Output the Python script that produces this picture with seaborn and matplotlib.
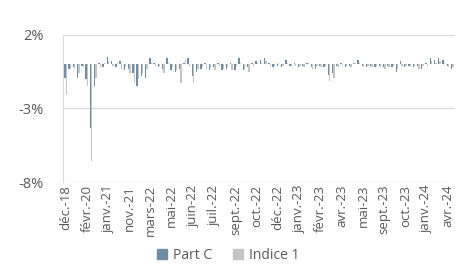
import pandas as pd
import seaborn as sns
import matplotlib.pyplot as plt
from matplotlib.lines import Line2D

# Monthly relative performance (%)
part_c = [-0.9, -0.3, -0.2, -0.9, -0.1, -1.0, -4.3, -1.5, 0.1, -0.2,
          0.5, 0.2, -0.2, 0.2, -0.4, -0.3, -0.6, -1.5, -0.8, -0.9,
          0.4, 0.1, -0.2, -0.3, 0.4, -0.4, -0.5, -0.3, 0.1, 0.4,
          -0.8, -0.5, -0.3, 0.1, -0.4, -0.2, 0.1, -0.4, -0.3, 0.1,
          -0.4, 0.4, -0.4, -0.2, 0.1, 0.2, 0.3, 0.4, 0.1, -0.2,
          -0.1, -0.2, 0.3, -0.1, 0.1, -0.2, -0.1, 0.1, -0.2, -0.3,
          -0.1, -0.2, -0.7, -0.6, -0.1, 0.1, -0.2, -0.1, 0.1, 0.3,
          -0.1, -0.2, -0.1, -0.2, -0.1, -0.2, -0.1, -0.2, -0.5, 0.2,
          -0.2, -0.1, -0.2, -0.1, -0.3, 0.1, 0.4, 0.3, 0.4, 0.3,
          -0.1, -0.3]
indice_1 = [-2.1, -0.3, -0.3, -0.6, -0.2, -1.5, -6.6, -0.9, -0.2, 0.1,
            0.2, -0.1, 0.1, -0.3, -0.2, -0.6, -1.3, -1.0, -0.6, -0.3,
            0.1, -0.1, -0.1, -0.6, 0.1, -0.2, -0.4, -1.3, 0.3, -0.1,
            -1.3, -0.3, -0.2, -0.3, -0.2, -0.4, -0.1, -0.3, -0.2, -0.4,
            -0.1, 0.1, -0.3, -0.5, -0.1, 0.1, 0.1, 0.2, -0.1, -0.1,
            0.1, -0.1, 0.1, -0.2, -0.1, -0.1, -0.2, 0.1, -0.3, -0.1,
            -0.2, -0.1, -1.1, -0.9, -0.2, -0.1, -0.1, -0.2, 0.1, 0.1,
            -0.2, -0.1, -0.2, -0.1, -0.2, -0.3, -0.2, -0.1, -0.3, -0.1,
            -0.1, -0.2, -0.1, -0.3, -0.1, -0.1, 0.2, 0.1, 0.2, 0.1,
            -0.2, -0.2]
tick_labels = ["déc.-18", "févr.-20", "janv.-21", "nov.-21", "mars-22",
               "mai-22", "juin-22", "juil.-22", "sept.-22", "oct.-22",
               "déc.-22", "janv.-23", "févr.-23", "avr.-23", "mai-23",
               "sept.-23", "oct.-23", "janv.-24", "avr.-24"]
series_names = ["Part C", "Indice 1"]
colors = ["#6f8ca3", "#c4c4c4"]

n = len(part_c)
df = pd.DataFrame({
    "cat": list(range(n)) * 2,
    "value": part_c + indice_1,
    "serie": [series_names[0]] * n + [series_names[1]] * n,
})

sns.set_style("white")
plt.rcParams["font.family"] = ["Open Sans", "DejaVu Sans"]

fig = plt.figure(figsize=(4.57, 2.75), dpi=100)
ax = fig.add_axes([0.138, 0.338, 0.857, 0.535])

sns.barplot(data=df, x="cat", y="value", hue="serie", palette=colors,
            saturation=1, width=0.65, linewidth=0, ax=ax, legend=False,
            errorbar=None)

ax.set_ylim(-8, 2)
ax.set_yticks([2, -3, -8])
ax.set_yticklabels(["2%", "-3%", "-8%"], fontsize=10.5, color="#595959")
ax.set_xlim(-0.6, n - 0.4)
ax.set_xticks(range(0, 5 * len(tick_labels), 5))
ax.set_xticklabels(tick_labels, rotation=90, fontsize=9.5, color="#595959")
ax.tick_params(axis="y", length=0, pad=14)
ax.tick_params(axis="x", length=0, pad=2)
ax.set_xlabel("")
ax.set_ylabel("")
ax.yaxis.grid(True, color="#d9d9d9", linewidth=0.9)
ax.set_axisbelow(True)
for side in ["top", "right", "bottom"]:
    ax.spines[side].set_visible(False)
ax.spines["left"].set_color("#d9d9d9")

handles = [Line2D([], [], marker="s", linestyle="", markersize=7, color=c)
           for c in colors]
fig.legend(handles, series_names, loc="center", bbox_to_anchor=(0.49, 0.07),
           ncol=2, frameon=False, fontsize=10, handletextpad=-0.2,
           columnspacing=0.9, labelcolor="#595959")

fig.savefig("out.png", dpi=100)
